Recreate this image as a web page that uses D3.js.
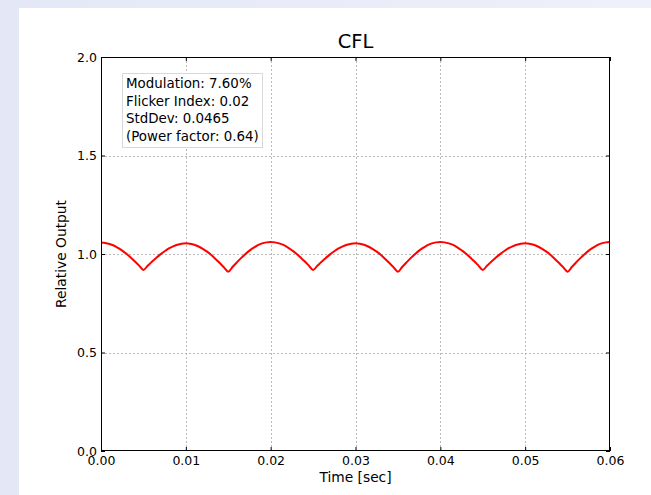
<!DOCTYPE html>
<html><head><meta charset="utf-8">
<script src="https://cdn.jsdelivr.net/npm/d3@7"></script>
<style>
body{margin:0;background:linear-gradient(90deg,#e4e8f6,#eef0fa);}
svg{display:block}
text{font-family:"DejaVu Sans",sans-serif;fill:#000}
</style>
</head><body>
<svg id="c" width="651" height="495"></svg>
<script>
const chartTitle = "CFL";
const xLabel = "Time [sec]";
const yLabel = "Relative Output";
const xTicks = [0, 0.01, 0.02, 0.03, 0.04, 0.05, 0.06];
const yTicks = [0, 0.5, 1.0, 1.5, 2.0];
const infoLines = ["Modulation: 7.60%", "Flicker Index: 0.02", "StdDev: 0.0465", "(Power factor: 0.64)"];
const sampleStep = 0.0005; // seconds between samples
const relOutput = [
  1.058,1.056,1.051,1.043,1.031,1.017,1.001,0.982,0.962,0.941,0.919,
  0.940,0.961,0.980,0.998,1.014,1.028,1.039,1.047,1.052,1.054,
  1.052,1.047,1.038,1.026,1.012,0.995,0.975,0.954,0.932,0.910,
  0.934,0.957,0.979,0.999,1.017,1.032,1.045,1.054,1.059,1.061,
  1.059,1.054,1.046,1.034,1.019,1.003,0.983,0.963,0.941,0.919,
  0.940,0.961,0.980,0.998,1.014,1.028,1.039,1.047,1.052,1.054,
  1.052,1.047,1.038,1.026,1.012,0.995,0.975,0.954,0.932,0.910,
  0.934,0.957,0.979,0.999,1.017,1.032,1.045,1.054,1.059,1.061,
  1.059,1.054,1.046,1.034,1.019,1.003,0.983,0.963,0.941,0.919,
  0.940,0.961,0.980,0.998,1.014,1.028,1.039,1.047,1.052,1.054,
  1.052,1.047,1.038,1.026,1.012,0.995,0.975,0.954,0.932,0.910,
  0.934,0.957,0.979,0.999,1.017,1.032,1.045,1.054,1.059,1.061
];

const svg = d3.select("#c");
const W = 651, H = 495;
const L = 101, R = 610, T = 57, B = 451;

svg.append("rect").attr("x", 19).attr("y", 8).attr("width", W - 19).attr("height", H - 8).attr("fill", "#fff");

const x = d3.scaleLinear().domain([0, 0.06]).range([L, R]);
const y = d3.scaleLinear().domain([0, 2]).range([B, T]);

// grid
const grid = svg.append("g").attr("stroke", "#a8a8a8").attr("stroke-width", 0.8).attr("stroke-dasharray", "2,2");
grid.selectAll("line.v").data(xTicks.slice(1, -1)).join("line")
  .attr("x1", d => Math.round(x(d)) + 0.5).attr("x2", d => Math.round(x(d)) + 0.5).attr("y1", T).attr("y2", B);
grid.selectAll("line.h").data(yTicks.slice(1, -1)).join("line")
  .attr("y1", d => Math.round(y(d)) + 0.5).attr("y2", d => Math.round(y(d)) + 0.5).attr("x1", L).attr("x2", R);

// data line
const pts = relOutput.map((v, i) => [i * sampleStep, v]);
svg.append("clipPath").attr("id", "pc").append("rect").attr("x", L).attr("y", T).attr("width", R - L).attr("height", B - T);
svg.append("path").datum(pts)
  .attr("clip-path", "url(#pc)")
  .attr("fill", "none").attr("stroke", "#ff0000").attr("stroke-width", 2).attr("stroke-linejoin", "round")
  .attr("d", d3.line().x(d => x(d[0])).y(d => y(d[1])).curve(d3.curveCatmullRom));

// axes
const fs = 12.5;
const xAxis = svg.append("g").attr("transform", `translate(0,${B})`)
  .call(d3.axisBottom(x).tickValues(xTicks).tickFormat(d3.format(".2f")).tickSizeInner(-4).tickSizeOuter(0).tickPadding(5));
const xTop = svg.append("g").attr("transform", `translate(0,${T})`)
  .call(d3.axisTop(x).tickValues(xTicks).tickFormat("").tickSizeInner(-4).tickSizeOuter(0));
const yAxis = svg.append("g").attr("transform", `translate(${L},0)`)
  .call(d3.axisLeft(y).tickValues(yTicks).tickFormat(d3.format(".1f")).tickSizeInner(-4).tickSizeOuter(0).tickPadding(4));
const yRight = svg.append("g").attr("transform", `translate(${R},0)`)
  .call(d3.axisRight(y).tickValues(yTicks).tickFormat("").tickSizeInner(-4).tickSizeOuter(0));
[xAxis, xTop, yAxis, yRight].forEach(g => {
  g.select(".domain").remove();
  g.selectAll("text").attr("font-size", fs).attr("font-family", "DejaVu Sans").attr("fill", "#000");
  g.selectAll("line").attr("stroke", "#000");
});

// frame
svg.append("rect").attr("x", L + 0.5).attr("y", T + 0.5).attr("width", R - L - 1).attr("height", B - T - 1)
  .attr("fill", "none").attr("stroke", "#000").attr("stroke-width", 1);

// info box
const bx = 122.5, by = 73.5;
svg.append("rect").attr("x", bx).attr("y", by).attr("width", 140).attr("height", 74)
  .attr("fill", "#fff").attr("stroke", "#d8d8d8").attr("stroke-width", 1);
svg.append("g").selectAll("text").data(infoLines).join("text")
  .attr("x", 126).attr("y", (d, i) => 88 + i * 17.6)
  .attr("font-size", 13.4).text(d => d);

// titles
const lfs = 13.8;
svg.append("text").attr("x", (L + R) / 2).attr("y", 48).attr("text-anchor", "middle").attr("font-size", 19.5).text(chartTitle);
svg.append("text").attr("x", (L + R) / 2).attr("y", 482).attr("text-anchor", "middle").attr("font-size", lfs).text(xLabel);
svg.append("text").attr("transform", `translate(66,${(T + B) / 2}) rotate(-90)`).attr("text-anchor", "middle").attr("font-size", lfs).text(yLabel);
</script>
</body></html>
